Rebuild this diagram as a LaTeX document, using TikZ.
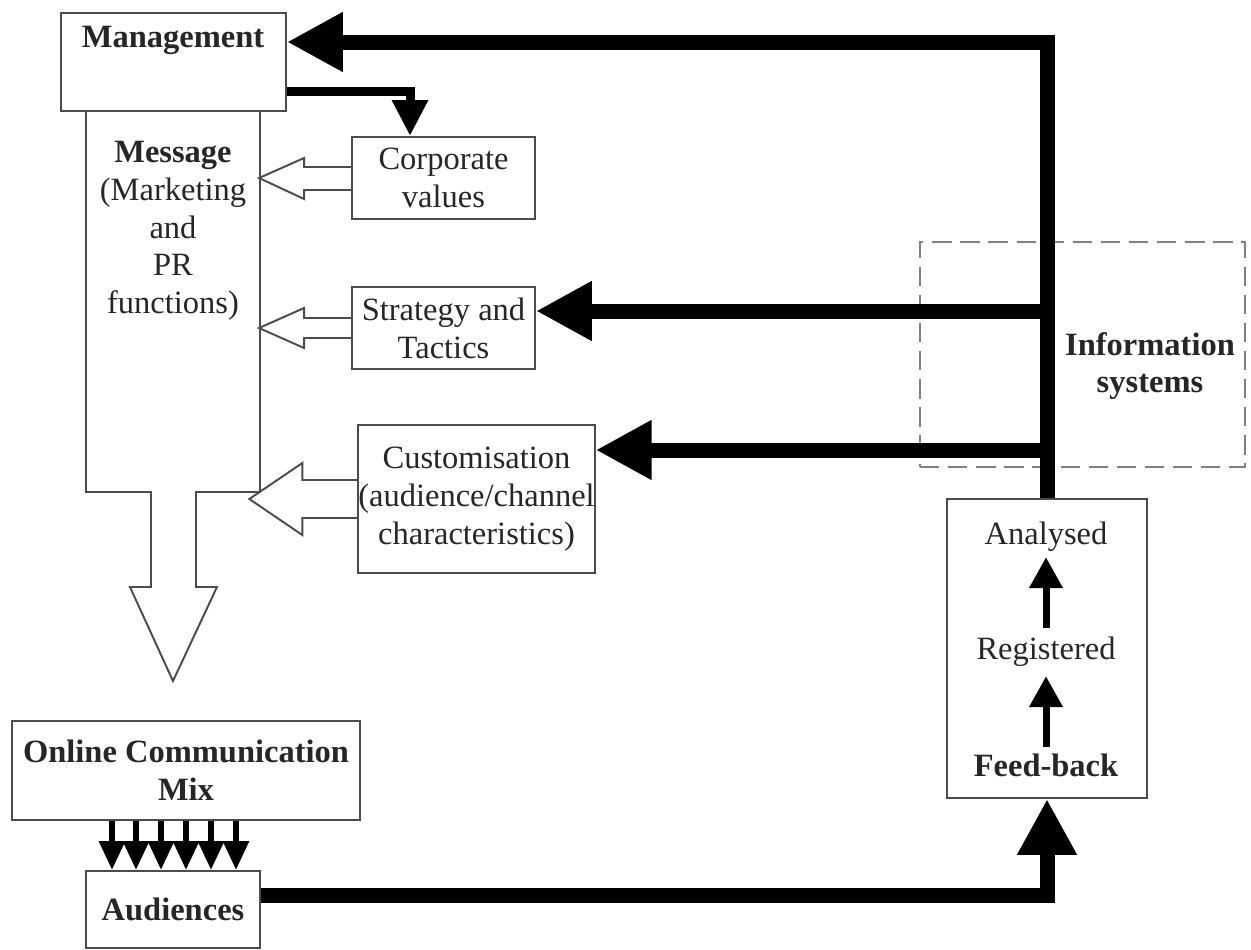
\documentclass[tikz,border=0pt]{standalone}
\usepackage{fontspec}
\setmainfont{Liberation Serif}
\usetikzlibrary{arrows.meta,calc}
\begin{document}
\begin{tikzpicture}[x=0.02cm,y=-0.02cm,
  font=\fontsize{18.5}{21.5}\selectfont,
  box/.style={draw=black!70,line width=1.1pt,inner sep=0pt,align=center,text=black!85},
  lbl/.style={inner sep=0pt,align=center,text=black!85},
  bold/.style={lbl,font=\fontsize{18.5}{21.5}\selectfont\bfseries},
  outline/.style={draw=black!70,line width=1.1pt,line join=miter},
  bigarrow/.style={line width=0.3cm,line join=miter,-{Triangle[length=1.12cm,width=1.12cm]}},
  medarrow/.style={line width=0.18cm,line join=miter,-{Triangle[length=0.72cm,width=0.68cm]}},
  smallarrow/.style={line width=0.12cm,-{Triangle[length=0.58cm,width=0.5cm]}},
  thinarrow/.style={line width=0.14cm,-{Triangle[length=0.62cm,width=0.64cm]}}
]
\fill[white] (0,0) rectangle (1251,950);
\useasboundingbox (0,0) rectangle (1251,950);

% dashed information systems box
\node[draw=black!50,dash pattern=on 11pt off 5pt,line width=1.2pt,minimum width=6.5cm,minimum height=4.5cm,inner sep=0pt] (info) at (1082.5,354.5) {};
\node[bold] (infolbl) at (1150,366) {Information\\systems};

% boxes
\node[box,minimum width=4.5cm,minimum height=1.96cm] (mgmt) at (173.5,62) {};
\node[bold] (mgmtlbl) at (173,40) {Management};
\node[box,minimum width=3.66cm,minimum height=1.64cm] (corp) at (443.5,178) {Corporate\\values};
\node[box,minimum width=3.66cm,minimum height=1.64cm] (strat) at (443.5,328) {Strategy and\\Tactics};
\node[box,minimum width=4.34cm,minimum height=2.96cm] (cust) at (476.5,499) {Customisation\\(audience/channel\\characteristics)};
\node[box,minimum width=6.96cm,minimum height=1.98cm,font=\fontsize{18.5}{21.5}\selectfont\bfseries] (online) at (186,770.5) {Online Communication\\Mix};
\node[box,minimum width=3.48cm,minimum height=1.54cm,font=\fontsize{18.5}{21.5}\selectfont\bfseries] (aud) at (173,909.5) {Audiences};
\node[box,minimum width=4cm,minimum height=5.98cm] (fb) at (1047,648.5) {};
\node[lbl] (ana) at (1046,537) {Analysed};
\node[lbl] (reg) at (1046,652) {Registered};
\node[bold] (feed) at (1046,765) {Feed-back};

% message column with hollow down arrow
\draw[outline] (86,111) -- (86,492) -- (151,492) -- (151,587) -- (130,587) -- (173,681)
  -- (217,587) -- (196,587) -- (196,492) -- (260,492) -- (260,111);
\node[lbl] (msg) at (173,231) {\textbf{Message}\\(Marketing\\and\\PR\\functions)};

% hollow arrows into the message column
\draw[outline] ($(corp.west)+(0,-11)$) -- ++(-47,0) -- ++(0,-9) -- ++(-45,20) -- ++(45,21) -- ++(0,-9) -- ++(47,0);
\draw[outline] ($(strat.west)+(0,-10)$) -- ++(-47,0) -- ++(0,-10) -- ++(-45,20) -- ++(45,20) -- ++(0,-10) -- ++(47,0);
\draw[outline] ($(cust.west)+(0,-19)$) -- ++(-55,0) -- ++(0,-17) -- ++(-53,36) -- ++(53,36) -- ++(0,-17) -- ++(55,0);

% management to corporate values
\draw[medarrow] ([yshift=-0.6cm]mgmt.east) -| ([xshift=-0.67cm]corp.north);

% information flow back
\draw[bigarrow] (fb.north) |- ([yshift=0.4cm]mgmt.east);
\coordinate (j1) at (1047,311);
\coordinate (j2) at (1047,450);
\draw[bigarrow] (j1) -- (j1 -| strat.east);
\draw[bigarrow] (j2) -- (j2 -| cust.east);
\draw[bigarrow] ([yshift=0.29cm]aud.east) -| (fb.south);

% inner feedback arrows
\draw[thinarrow,shorten <=0.18cm,shorten >=0.1cm] (reg.north) -- (ana.south);
\draw[thinarrow,shorten <=0.12cm,shorten >=0.18cm] (feed.north) -- (reg.south);

% communication mix to audiences
\foreach \dx [count=\i] in {-74,-50,-25,0,25,50} {
  \coordinate (s\i) at ([xshift=\dx*0.02cm]online.south);
  \draw[smallarrow] (s\i) -- (s\i |- aud.north);
}
\end{tikzpicture}
\end{document}
